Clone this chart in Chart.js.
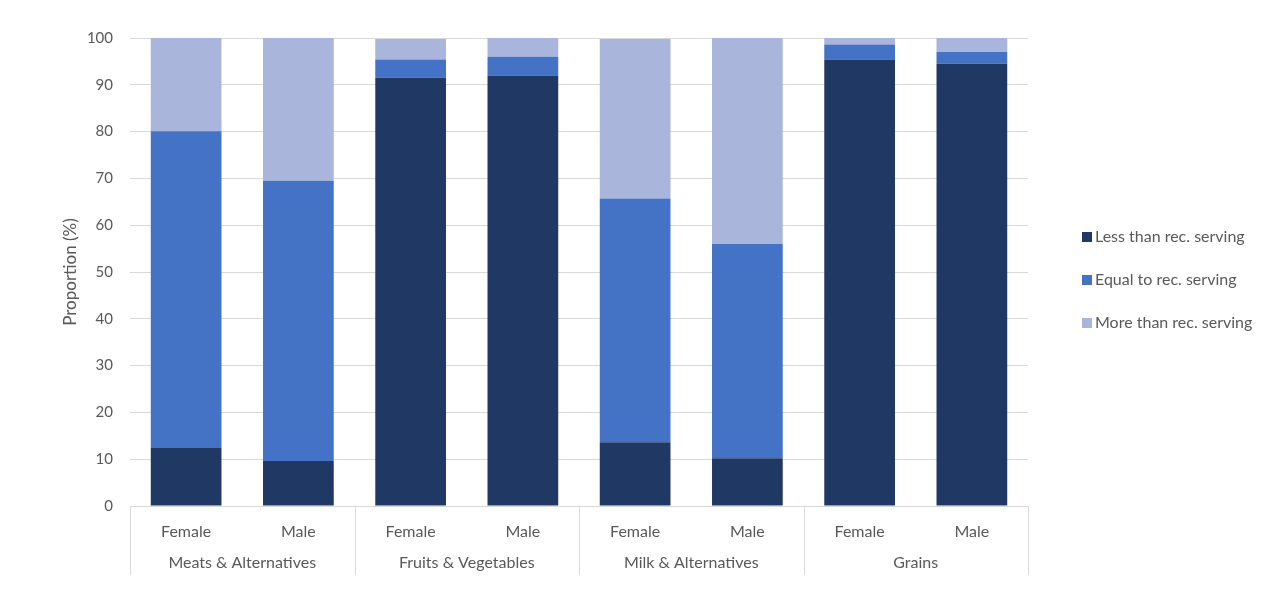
<!DOCTYPE html>
<html>
<head>
<meta charset="utf-8">
<script src="https://cdn.jsdelivr.net/npm/chart.js@4/dist/chart.umd.min.js"></script>
<style>
  html, body { margin: 0; padding: 0; background: #fff; }
  #wrap { width: 1288px; height: 605px; }
</style>
</head>
<body>
<div id="wrap"><canvas id="chartServing" width="1288" height="605"></canvas></div>
<script>
// Datos del gráfico
const grupos = ['Meats & Alternatives', 'Fruits & Vegetables', 'Milk & Alternatives', 'Grains'];
const sexos = ['Female', 'Male', 'Female', 'Male', 'Female', 'Male', 'Female', 'Male'];
const menosQueRec = [12.4, 9.6, 91.5, 92.0, 13.6, 10.2, 95.4, 94.5];
const igualQueRec = [67.7, 59.9, 3.9, 4.0, 52.1, 45.8, 3.2, 2.5];
const masQueRec = [19.9, 30.5, 4.4, 4.0, 34.1, 44.0, 1.4, 3.0];
const ticksY = [0, 10, 20, 30, 40, 50, 60, 70, 80, 90, 100];

const FUENTE = 'Lato, "Open Sans", sans-serif';
const GRIS = '#595959';

// Etiquetas de grupo y separadores bajo el eje X
const gruposPlugin = {
    id: 'gruposX',
    afterDraw(chart) {
        const x = chart.scales.x;
        const ctx = chart.ctx;
        const ancho = (x.right - x.left) / grupos.length;
        ctx.save();
        ctx.strokeStyle = '#d9d9d9';
        ctx.lineWidth = 1;
        for (let i = 0; i <= grupos.length; i++) {
            const px = Math.round(x.left + i * ancho) + 0.5;
            ctx.beginPath();
            ctx.moveTo(px, x.top);
            ctx.lineTo(px, x.top + 69);
            ctx.stroke();
        }
        ctx.fillStyle = GRIS;
        ctx.font = '16px ' + FUENTE;
        ctx.textAlign = 'center';
        ctx.textBaseline = 'middle';
        grupos.forEach((g, i) => {
            ctx.fillText(g, x.left + (i + 0.5) * ancho, x.top + 57);
        });
        ctx.restore();
    }
};

// Leyenda a la derecha (dibujada a partir de los datasets)
const leyendaPlugin = {
    id: 'leyendaDerecha',
    afterDraw(chart) {
        const ctx = chart.ctx;
        const area = chart.chartArea;
        const centro = (area.top + area.bottom) / 2 + 8;
        const sets = chart.data.datasets;
        ctx.save();
        ctx.font = '16px ' + FUENTE;
        ctx.textBaseline = 'middle';
        ctx.textAlign = 'left';
        sets.forEach((ds, i) => {
            const y = centro + (i - (sets.length - 1) / 2) * 43;
            ctx.fillStyle = ds.backgroundColor;
            ctx.fillRect(area.right + 54, Math.round(y - 5), 10, 10);
            ctx.fillStyle = GRIS;
            ctx.fillText(ds.label, area.right + 67, y);
        });
        ctx.restore();
    }
};

const ctxServing = document.getElementById('chartServing').getContext('2d');
new Chart(ctxServing, {
    type: 'bar',
    data: {
        labels: sexos,
        datasets: [
            { label: 'Less than rec. serving', data: menosQueRec, backgroundColor: '#203864' },
            { label: 'Equal to rec. serving', data: igualQueRec, backgroundColor: '#4472c4' },
            { label: 'More than rec. serving', data: masQueRec, backgroundColor: '#a9b5da' }
        ]
    },
    options: {
        responsive: false,
        animation: false,
        layout: { padding: { top: 38, right: 260, bottom: 0, left: 56 } },
        datasets: { bar: { categoryPercentage: 1, barPercentage: 0.63 } },
        scales: {
            x: {
                stacked: true,
                grid: { display: false },
                border: { display: true, color: '#d9d9d9' },
                ticks: { color: GRIS, font: { size: 16, family: FUENTE }, padding: 8 },
                afterFit(scale) { scale.height = 99; }
            },
            y: {
                stacked: true,
                min: 0,
                max: 100,
                afterBuildTicks(scale) { scale.ticks = ticksY.map(v => ({ value: v })); },
                afterFit(scale) { scale.width = 74; },
                grid: { color: '#d9d9d9', drawTicks: false },
                border: { display: false },
                ticks: { color: GRIS, font: { size: 15, family: FUENTE }, padding: 17 },
                title: { display: true, text: 'Proportion (%)', color: GRIS, font: { size: 17, family: FUENTE } }
            }
        },
        plugins: {
            legend: { display: false },
            tooltip: { enabled: false }
        }
    },
    plugins: [gruposPlugin, leyendaPlugin]
});
</script>
</body>
</html>
